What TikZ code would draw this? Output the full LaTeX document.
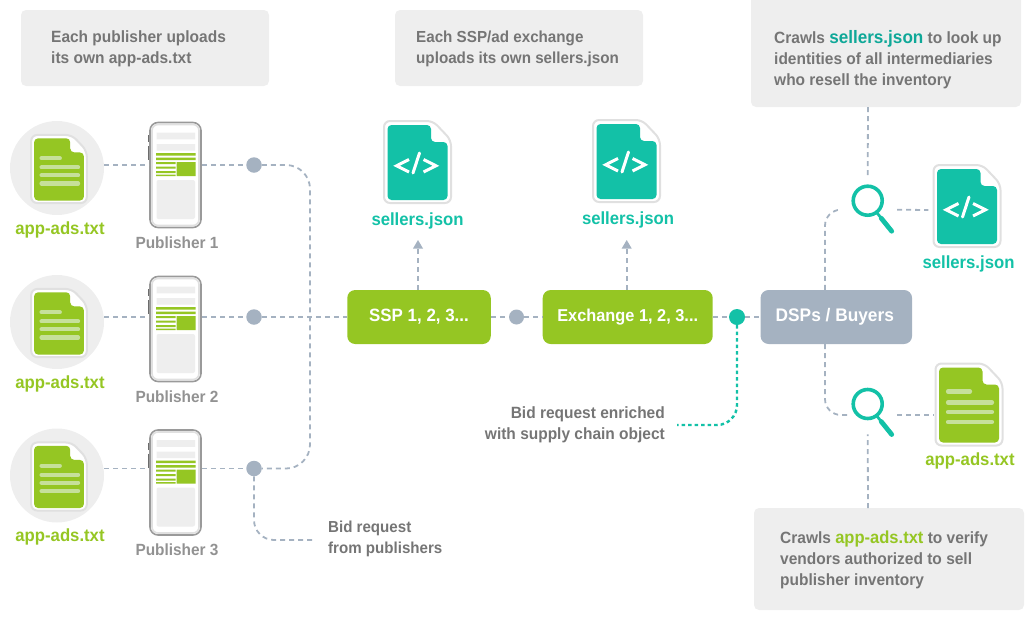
\documentclass[tikz,border=0pt]{standalone}
\usepackage{fontspec}
\setmainfont{Liberation Sans}[BoldFont={Liberation Sans Bold},BoldFeatures={FakeStretch=0.95}]
\usetikzlibrary{arrows.meta,calc}
\definecolor{leaf}{HTML}{95C623}
\definecolor{leaflight}{HTML}{C6E09A}
\definecolor{mint}{HTML}{13C1A7}
\definecolor{mintdark}{HTML}{0FA898}
\definecolor{slate}{HTML}{A5B2C1}
\definecolor{panel}{HTML}{EEEEEE}
\definecolor{ink}{HTML}{757575}
\definecolor{pubgray}{HTML}{929292}
\definecolor{framegray}{HTML}{E0E0E0}
\definecolor{phonegray}{HTML}{9A9A9A}
\newcommand{\filebasedraw}[1]{%
    \draw[framegray,fill=white,line width=2pt,rounded corners=6pt]
      (-33.5,-41) -- (15.5,-41) -- (33.5,-22) -- (33.5,41) -- (-33.5,41) -- cycle;
    \fill[#1,rounded corners=4pt] (-30,-37) -- (13.5,-37) -- (13.5,-20) -- (30,-20) -- (30,38) -- (-30,38) -- cycle;
}
\tikzset{
  x=1pt,y=-1pt,
  dashline/.style={draw=slate,line width=1.8pt,dash pattern=on 5pt off 4pt},
  mintline/.style={draw=mint,line width=2.4pt,dash pattern=on 3.5pt off 3pt},
  panelbox/.style={fill=panel,rounded corners=5pt,inner sep=0pt,anchor=north west},
  msg/.style={anchor=west,align=left,text=ink,font=\bfseries\fontsize{16.3}{21}\selectfont,inner sep=0pt},
  flabel/.style={font=\bfseries\fontsize{17.6}{18}\selectfont,inner sep=0pt},
  publabel/.style={font=\bfseries\fontsize{16.2}{18}\selectfont,text=pubgray,inner sep=0pt},
  flowbox/.style={rounded corners=8pt,minimum height=54pt,inner sep=0pt,text=white,font=\bfseries\fontsize{17.8}{18}\selectfont},
  dotnode/.style={circle,fill=slate,inner sep=0pt,minimum size=15.5pt},
  halo/.style={circle,fill=panel,inner sep=0pt,minimum size=94pt},
  phonenode/.style={draw=phonegray,fill=white,line width=1.6pt,rounded corners=8pt,minimum width=51pt,minimum height=105pt,inner sep=0pt},
  bigfile/.style={inner sep=0pt,minimum width=69pt,minimum height=84pt},
  smallfile/.style={inner sep=0pt,minimum width=57pt,minimum height=70pt},
  lens/.style={circle,draw=mint,line width=3.6pt,fill=white,inner sep=0pt,minimum size=29pt},
  pics/codefile/.style={code={
    \filebasedraw{mint}
    \draw[white,line width=3pt] (-8.5,-2.5) -- (-21,3.8) -- (-8.5,10);
    \draw[white,line width=3pt,line cap=round] (2,-9) -- (-4.5,11);
    \draw[white,line width=3pt] (6,-2.5) -- (18.5,3.8) -- (6,10);
  }},
  pics/textfile/.style={code={
    \filebasedraw{leaf}
    \draw[leaflight,line width=4.2pt,line cap=round] (-21,-13) -- (1,-13) (-21,-2) -- (23,-2) (-21,7.5) -- (23,7.5) (-21,17.5) -- (23,17.5);
  }},
  pics/phonefill/.style={code={
    \draw[framegray,line width=1.6pt,rounded corners=6pt] (-23.5,-50.5) rectangle (23.5,50.5);
    \fill[panel] (-19,-42.3) rectangle (19.5,-35.7) (-19,-31) rectangle (19.5,-24.3);
    \fill[leaf] (-19.5,-22) rectangle (20,-19.5) (-19.5,-17.3) rectangle (20,-15) (1,-13) rectangle (20,1)
      (-19.5,-13) rectangle (0,-11) (-19.5,-8.5) rectangle (0,-6.5) (-19.5,-4) rectangle (0,-2) (-19.5,-0.5) rectangle (0,1);
    \fill[panel,rounded corners=2pt] (-19,5) rectangle (19.5,44);
    \draw[phonegray!70!black,line width=1.3pt] (-27,-40) -- (-27,-33) (-27,-29) -- (-27,-15);
  }},
}
\begin{document}
\begin{tikzpicture}
\useasboundingbox (0,0) rectangle (1035,619);

% instruction panels
\path[panelbox,fill=panel] (21,10) rectangle (269,86);
\path[panelbox,fill=panel] (395,10) rectangle (643,86);
\path[panelbox,fill=panel] (751,-6) rectangle (1021,107);
\path[panelbox,fill=panel] (754,508) rectangle (1024,610);
\coordinate (topbox) at (868,107);
\coordinate (botbox) at (868,508);
\node[msg] (t1) at (51,49) {Each publisher uploads\\its own app-ads.txt};
\node[msg,font=\bfseries\fontsize{16}{21}\selectfont] (t2) at (416,49) {Each SSP/ad exchange\\uploads its own sellers.json};
\node[msg] (t3) at (774,60) {Crawls {\color{mintdark}\fontsize{18}{21}\selectfont sellers.json} to look up\\identities of all intermediaries\\who resell the inventory};
\node[msg] (t4) at (780,560) {Crawls {\color{leaf}\fontsize{17.4}{21}\selectfont app-ads.txt} to verify\\vendors authorized to sell\\publisher inventory};

% publishers
\node[halo] (c1) at (57,168) {};
\node[halo] (c2) at (57,322) {};
\node[halo] (c3) at (57,475.5) {};
\node[smallfile] (fa) at (59,169) {};
\node[smallfile] (fb) at (59,323) {};
\node[smallfile] (fc) at (59,476.5) {};
\pic[scale=.83] at (fa) {textfile};
\pic[scale=.83] at (fb) {textfile};
\pic[scale=.83] at (fc) {textfile};
\node[flabel,text=leaf] (la) at (60,230) {app-ads.txt};
\node[flabel,text=leaf] (lb) at (60,384) {app-ads.txt};
\node[flabel,text=leaf] (lc) at (60,537) {app-ads.txt};
\node[phonenode] (p1) at (175.5,175) {};
\node[phonenode] (p2) at (175.5,329) {};
\node[phonenode] (p3) at (175.5,482.5) {};
\pic at (p1) {phonefill};
\pic at (p2) {phonefill};
\pic at (p3) {phonefill};
\node[publabel] (n1) at (177,242.5) {Publisher 1};
\node[publabel] (n2) at (177,396.5) {Publisher 2};
\node[publabel] (n3) at (177,549.5) {Publisher 3};
\node[dotnode] (d1) at (254,165) {};
\node[dotnode] (d2) at (254,317) {};
\node[dotnode] (d3) at (254,468.5) {};
\coordinate (bus) at (310,317);

% flow boxes
\node[flowbox,fill=leaf,minimum width=143.5pt] (ssp) at (419,317) {\raisebox{-1pt}{SSP 1, 2, 3...}};
\node[flowbox,fill=leaf,minimum width=170pt,font=\bfseries\fontsize{17.2}{18}\selectfont] (ex) at (627.7,317) {Exchange 1, 2, 3...};
\node[flowbox,fill=slate,minimum width=151.5pt,font=\bfseries\fontsize{18.2}{18}\selectfont] (dsp) at (836.3,317) {\hspace*{-3pt}\raisebox{-1pt}{DSPs / Buyers}};
\node[dotnode,minimum size=15pt] (d4) at (516.5,317) {};
\node[dotnode,fill=mint,minimum size=16pt] (d5) at (737,317) {};

% seller files
\node[bigfile] (f1) at (417.5,162) {};
\node[bigfile] (f2) at (626.5,161) {};
\node[bigfile] (f3) at (967,206) {};
\node[bigfile] (f4) at (969,404.5) {};
\pic at (f1) {codefile};
\pic at (f2) {codefile};
\pic at (f3) {codefile};
\pic at (f4) {textfile};
\node[flabel,text=mint] (l1) at (417.5,220.5) {sellers.json};
\node[flabel,text=mint] (l2) at (628,219.5) {sellers.json};
\node[flabel,text=mint] (l3) at (968.5,263.5) {sellers.json};
\node[flabel,text=leaf] (l4) at (970,460.5) {app-ads.txt};
\coordinate (a1) at (418,240);
\coordinate (a2) at (626.7,240);

% lenses
\node[lens] (s1) at (867.7,200.7) {};
\node[lens] (s2) at (867.7,404) {};
\draw[mint,line width=2.8pt] (s1) ++(9.5,12.5) -- ++(5,6);
\draw[mint,line width=4.8pt,line cap=round] (s1) ++(13.5,17.5) -- ++(10.5,13);
\draw[mint,line width=2.8pt] (s2) ++(9.5,12.5) -- ++(5,6);
\draw[mint,line width=4.8pt,line cap=round] (s2) ++(13.5,17.5) -- ++(10.5,13);

% side labels
\node[msg,anchor=east,align=right,text=ink] (e1) at (665,424.5) {Bid request enriched\\with supply chain object};
\node[msg,font=\bfseries\fontsize{15.9}{21}\selectfont] (e2) at (328,539) {Bid request\\from publishers};
\coordinate (e1end) at (677,425);
\coordinate (e2end) at (316,540);

% connectors
\draw[dashline] (c1.east|-d1) -- (p1.west|-d1);
\draw[dashline] (p1.east|-d1) -- (d1);
\draw[dashline] (c2.east|-d2) -- (p2.west|-d2);
\draw[dashline] (p2.east|-d2) -- (d2);
\draw[dashline] (c3.east|-d3) -- (p3.west|-d3);
\draw[dashline] (p3.east|-d3) -- (d3);
\draw[dashline,rounded corners=24pt] (d1.east) -| (bus) |- (d3.east);
\draw[dashline] (d2.east) -- (ssp.west);
\draw[dashline] (ssp.east) -- (d4.west);
\draw[dashline] (d4.east) -- (ex.west);
\draw[dashline] (ex.east) -- (d5.west);
\draw[dashline] (d5.east) -- (dsp.west);
\draw[dashline,rounded corners=20pt] (d3.south) |- (e2end);
\draw[dashline] (ssp.north-|a1) -- ($(a1)+(0,8)$);
\draw[dashline] (ex.north-|a2) -- ($(a2)+(0,8)$);
\fill[slate] (a1) -- ++(5,8.5) -- ++(-10,0) -- cycle;
\fill[slate] (a2) -- ++(5,8.5) -- ++(-10,0) -- cycle;
\draw[mintline,rounded corners=20pt] (d5.south) |- (e1end);
\coordinate (dspx) at (825,317);
\draw[dashline,rounded corners=16pt] (dsp.north-|dspx) |- ($(s1.west)+(-10,9)$);
\draw[dashline,rounded corners=16pt] (dsp.south-|dspx) |- ($(s2.west)+(-3,11)$);
\draw[dashline] ($(s1.east)+(13,9)$) -- ($(f3.west)+(-4,4)$);
\draw[dashline] ($(s2.east)+(13,11)$) -- (f4.west|-{$(s2.east)+(13,11)$});
\draw[dashline] (topbox) -- ($(s1.north)+(0,-8)$);
\draw[dashline] (botbox) -- ($(s2.south)+(0,14)$);
\end{tikzpicture}
\end{document}
